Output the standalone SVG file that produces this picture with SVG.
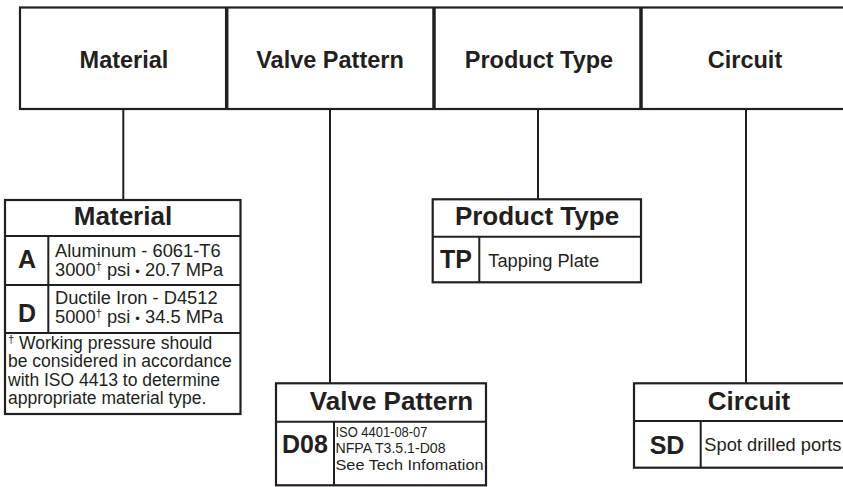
<svg xmlns="http://www.w3.org/2000/svg" width="843" height="487" viewBox="0 0 843 487">
<style>
.ln{stroke:#231f20;stroke-width:2;fill:none}
.dv{stroke:#231f20;stroke-width:3.5;fill:none}
.bx{stroke:#231f20;stroke-width:2.2;fill:#fff}
text{font-family:"Liberation Sans",Arial,sans-serif;fill:#231f20}
.top{font-size:23.5px;font-weight:bold;text-anchor:middle}
.ttl{font-size:26px;font-weight:bold;text-anchor:middle}
.code{font-size:25px;font-weight:bold;text-anchor:middle}
.desc{font-size:18.3px}
.ft{font-size:17.5px}
.sm{font-size:15px}
.sup{font-size:11px}
</style>
<rect width="843" height="487" fill="#fff"/>
<g id="header">
<rect class="bx" x="20" y="7.5" width="830" height="101.5"/>
<line class="dv" x1="226.7" y1="7.5" x2="226.7" y2="109"/>
<line class="dv" x1="434" y1="7.5" x2="434" y2="109"/>
<line class="dv" x1="641" y1="7.5" x2="641" y2="109"/>
<text class="top" x="124" y="68">Material</text>
<text class="top" x="330" y="68">Valve Pattern</text>
<text class="top" x="539" y="68">Product Type</text>
<text class="top" x="745" y="68">Circuit</text>
</g>
<g id="connectors">
<line class="ln" x1="123.3" y1="109" x2="123.3" y2="200"/>
<line class="ln" x1="330" y1="109" x2="330" y2="384"/>
<line class="ln" x1="538" y1="109" x2="538" y2="199"/>
<line class="ln" x1="746" y1="109" x2="746" y2="384"/>
</g>
<g id="material">
<rect class="bx" x="5" y="200" width="235.5" height="214"/>
<line class="ln" x1="5" y1="236" x2="240.5" y2="236"/>
<line class="ln" x1="5" y1="285" x2="240.5" y2="285"/>
<line class="ln" x1="5" y1="333" x2="240.5" y2="333"/>
<line class="ln" x1="48.3" y1="236" x2="48.3" y2="333"/>
<text class="ttl" x="123" y="224.5">Material</text>
<text class="code" x="27" y="268">A</text>
<text class="desc" x="55" y="256.5">Aluminum - 6061-T6</text>
<text class="desc" x="55" y="276">3000<tspan class="sup" dy="-6">†</tspan><tspan dy="6"> psi </tspan><tspan font-size="13">•</tspan> 20.7 MPa</text>
<text class="code" x="27" y="322">D</text>
<text class="desc" x="55" y="303.5">Ductile Iron - D4512</text>
<text class="desc" x="55" y="322.7">5000<tspan class="sup" dy="-6">†</tspan><tspan dy="6"> psi </tspan><tspan font-size="13">•</tspan> 34.5 MPa</text>
<text class="ft" x="8" y="348.5"><tspan class="sup" dy="-6">†</tspan><tspan dy="6"> Working pressure should</tspan></text>
<text class="ft" x="8" y="367">be considered in accordance</text>
<text class="ft" x="8" y="385.5">with ISO 4413 to determine</text>
<text class="ft" x="8" y="404">appropriate material type.</text>
</g>
<g id="product-type">
<rect class="bx" x="432.7" y="199.3" width="208.3" height="83"/>
<line class="ln" x1="432.7" y1="236.7" x2="641" y2="236.7"/>
<line class="ln" x1="479.3" y1="236.7" x2="479.3" y2="282.3"/>
<text class="ttl" x="537" y="225">Product Type</text>
<text class="code" x="456" y="268.3" font-size="24">TP</text>
<text class="desc" x="488.3" y="266.7" font-size="16.5">Tapping Plate</text>
</g>
<g id="valve-pattern">
<rect class="bx" x="276" y="383.3" width="210" height="102"/>
<line class="ln" x1="276" y1="421.7" x2="486" y2="421.7"/>
<line class="ln" x1="334" y1="421.7" x2="334" y2="485.3"/>
<text class="ttl" x="391.5" y="410">Valve Pattern</text>
<text class="code" x="305" y="453.3" font-size="23">D08</text>
<text class="sm" x="335.5" y="436.5" textLength="92" lengthAdjust="spacingAndGlyphs">ISO 4401-08-07</text>
<text class="sm" x="335.5" y="453" textLength="110" lengthAdjust="spacingAndGlyphs">NFPA T3.5.1-D08</text>
<text class="sm" x="335.5" y="470" textLength="148" lengthAdjust="spacingAndGlyphs">See Tech Infomation</text>
</g>
<g id="circuit">
<rect class="bx" x="634" y="383.3" width="230" height="84.4"/>
<line class="ln" x1="634" y1="421" x2="864" y2="421"/>
<line class="ln" x1="700.7" y1="421" x2="700.7" y2="467.7"/>
<text class="ttl" x="749" y="410">Circuit</text>
<text class="code" x="667" y="454" font-size="24.5">SD</text>
<text class="desc" x="704.3" y="450.7" font-size="17">Spot drilled ports</text>
</g>
</svg>
